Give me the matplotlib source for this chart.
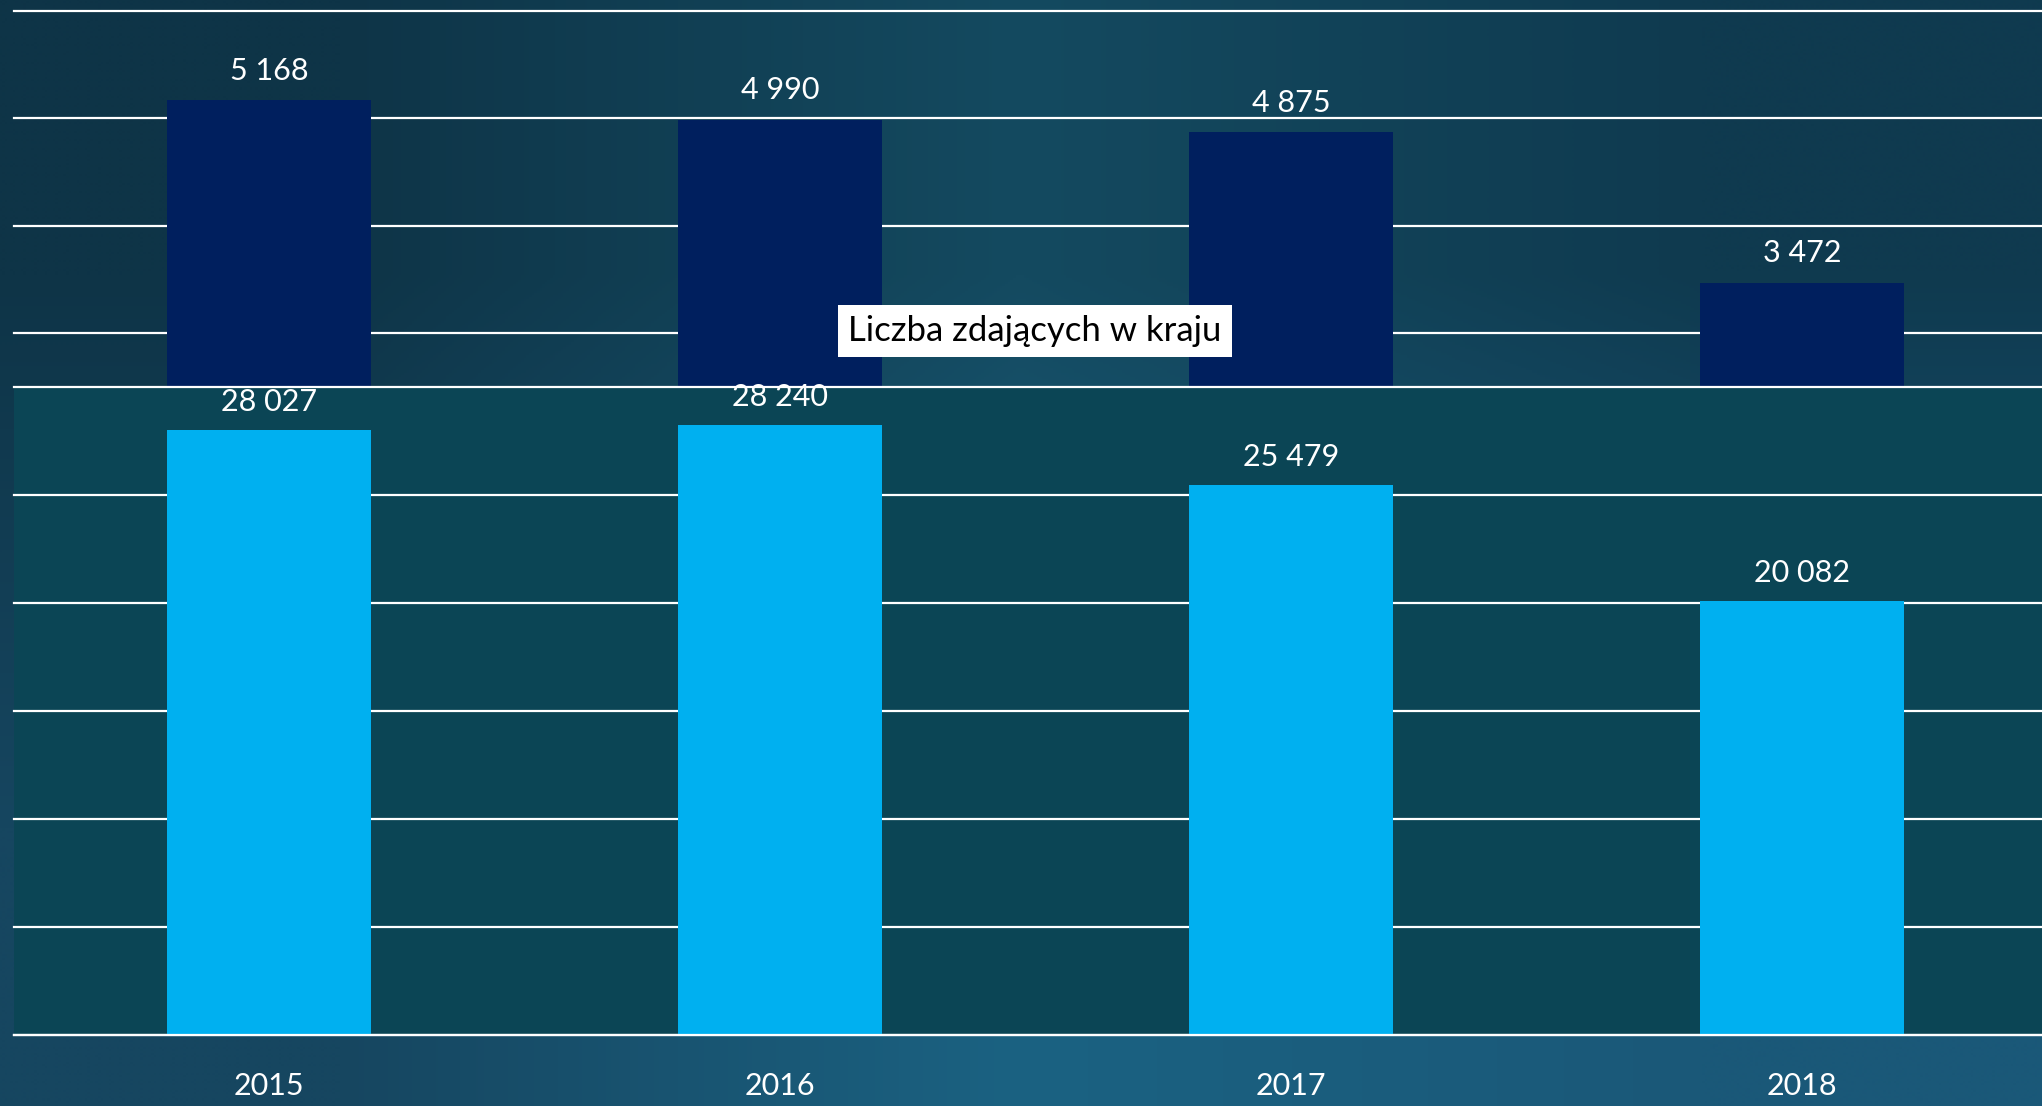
import matplotlib.pyplot as plt
import numpy as np
from matplotlib.colors import to_rgb

years = ["2015", "2016", "2017", "2018"]
kraj_top = [5168, 4990, 4875, 3472]
kraj_bottom = [28027, 28240, 25479, 20082]
top_labels = ["5 168", "4 990", "4 875", "3 472"]
bottom_labels = ["28 027", "28 240", "25 479", "20 082"]
top_ticks = [3000, 4000, 5000, 6000]
bottom_ticks = [0, 5000, 10000, 15000, 20000, 25000, 30000]

plt.rcParams['font.family'] = ['Lato', 'DejaVu Sans']

W, H = 2042, 1106
fig = plt.figure(figsize=(W / 100, H / 100), dpi=100)

# gradient background
bg = fig.add_axes([0, 0, 1, 1], zorder=-10)
grad_colors = [["#0e3447", "#144a60", "#0f3a4f"],
               ["#164660", "#1b6282", "#1a5878"]]
grad = np.array([[to_rgb(c) for c in row] for row in grad_colors])
bg.imshow(grad, aspect='auto', interpolation='bilinear', extent=[0, 1, 0, 1])
bg.axis('off')

x = np.arange(len(years))
left = 13.6 / W
width = 2044 / W

def style(ax):
    for s in ax.spines.values():
        s.set_visible(False)
    ax.tick_params(axis='y', left=False, labelleft=False)
    ax.tick_params(axis='x', bottom=False)
    ax.set_xlim(-0.5, 3.5)
    ax.grid(axis='y', color='white', linewidth=1.6, zorder=1)
    for gl in ax.get_ygridlines():
        gl.set_clip_on(False)
    ax.set_axisbelow(True)

# top panel
ax1 = fig.add_axes([left, 1 - 387 / H, width, 376 / H])
ax1.set_facecolor('none')
ax1.bar(x, kraj_top, 0.4, color='#001f5e', zorder=3)
ax1.set_ylim(2500, 6000)
ax1.set_yticks(top_ticks)
ax1.set_xticks([])
style(ax1)
for i, v in enumerate(kraj_top):
    ax1.annotate(top_labels[i], (i, v), xytext=(0, 21), textcoords='offset points',
                 ha='center', va='center', color='white', fontsize=22)

# bottom panel
ax2 = fig.add_axes([left, 1 - 1035 / H, width, 648 / H])
ax2.set_facecolor('#0b4555')
ax2.bar(x, kraj_bottom, 0.4, color='#00b0f0', zorder=3)
ax2.set_ylim(0, 30000)
ax2.set_yticks(bottom_ticks)
ax2.set_xticks(x)
ax2.set_xticklabels(years, color='white', fontsize=22)
style(ax2)
ax2.tick_params(axis='x', pad=23)
ax2.axhline(0, color='white', linewidth=1.6, zorder=4, clip_on=False)
for i, v in enumerate(kraj_bottom):
    ax2.annotate(bottom_labels[i], (i, v), xytext=(0, 20), textcoords='offset points',
                 ha='center', va='center', color='white', fontsize=22)

fig.text(1035 / W, 1 - 331 / H, "Liczba zdających w kraju", ha='center', va='center',
         fontsize=25, color='black', zorder=10,
         bbox=dict(facecolor='white', edgecolor='none', boxstyle='square,pad=0.3'))

fig.savefig('out.png', dpi=100)
